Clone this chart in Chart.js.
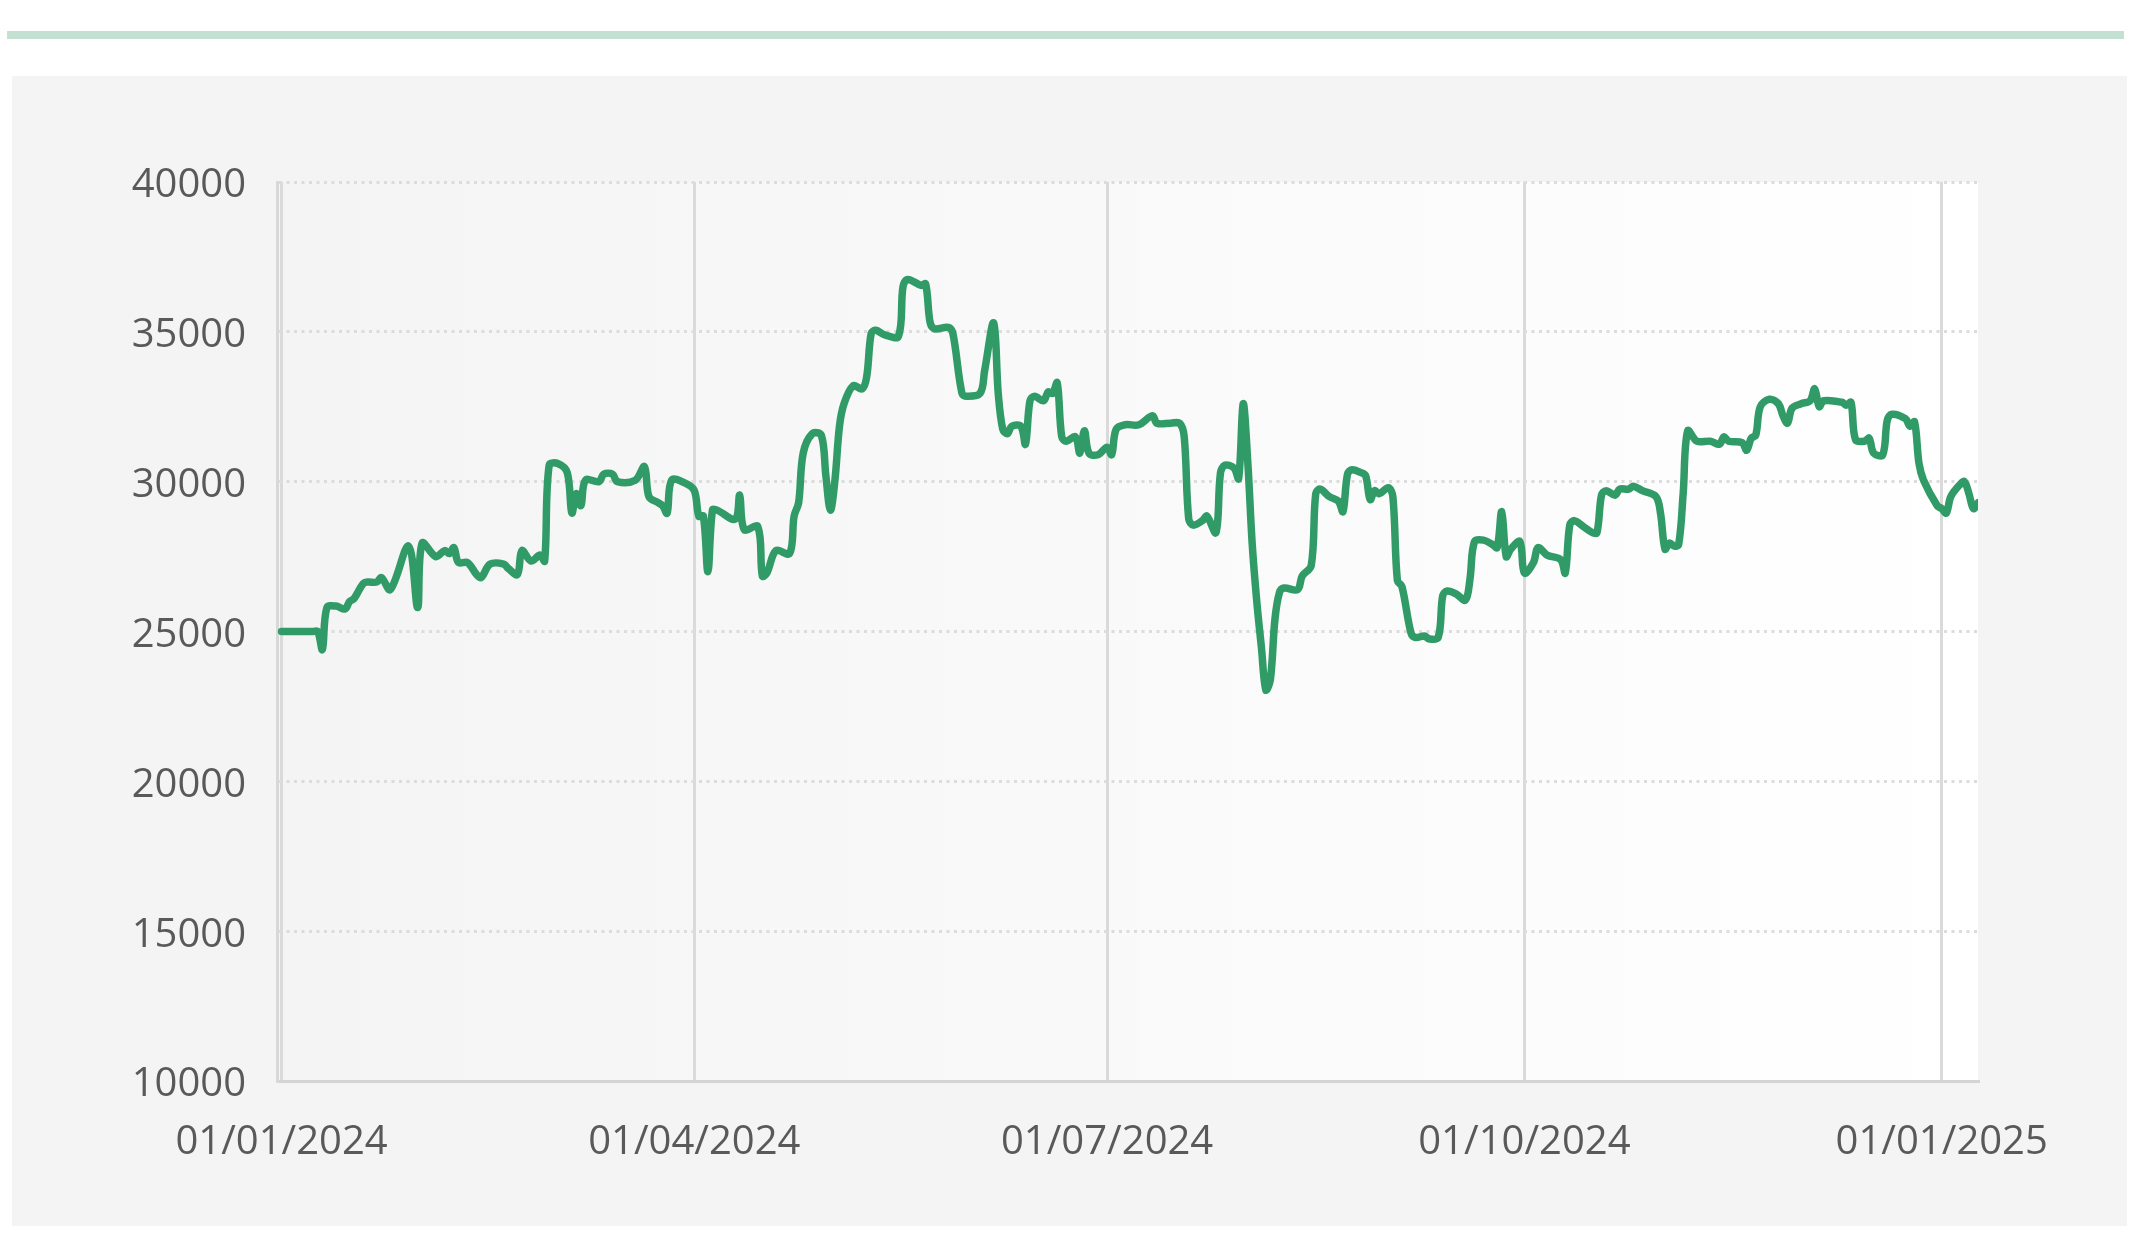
<!DOCTYPE html>
<html>
<head>
<meta charset="utf-8">
<script src="https://cdn.jsdelivr.net/npm/chart.js@4.4.1/dist/chart.umd.min.js"></script>
<style>
html,body{margin:0;padding:0;background:#ffffff;overflow:hidden}
canvas{display:block}
</style>
</head>
<body>
<canvas id="c" width="2141" height="1252"></canvas>
<script>
// Days since 01/01/2024
const dayIndex = [
  0,4,7,8,9,10,12,14,15,16,18,19,
  21,22,24,28,30,31,34,36,37,38,
  39,41,43,44,46,49,50,52,53,55,
  57,58,59,61,63,64,65,66,67,70,
  71,73,74,78,80,81,83,84,85,86,
  89,91,92,93,94,95,96,100,101,102,
  105,106,107,109,112,113,114,115,117,119,
  120,121,122,123,124,126,128,129,130,131,
  133,136,137,138,141,142,143,144,147,148,
  150,151,154,155,157,158,159,160,161,163,
  164,165,166,168,169,170,171,172,173,175,
  176,177,178,180,182,183,184,186,189,192,
  193,196,198,199,200,201,203,204,206,207,
  208,210,211,212,213,214,215,216,217,218,
  219,220,221,224,225,227,228,229,231,233,
  234,235,236,238,239,240,241,242,244,245,
  246,247,249,250,252,253,255,256,257,259,
  261,262,263,265,267,268,269,270,271,273,
  274,276,277,279,282,283,284,285,287,289,
  290,291,292,294,295,297,298,300,303,304,
  305,306,307,308,309,310,312,315,317,318,
  319,322,323,324,325,326,328,330,331,332,
  333,335,337,338,339,340,344,345,346,347,
  349,350,351,353,354,355,358,359,360,361,
  362,365,366,367,368,370,371,372,373,374
];
const priceValues = [
  25000,25000,25000,25000,24400,25800,25850,25750,26000,26100,26600,26650,
  26650,26800,26400,27850,25800,27950,27500,27700,27600,27800,
  27300,27300,26900,26800,27250,27250,27100,26900,27700,27350,
  27550,27350,30550,30600,30300,28950,29600,29200,30050,30000,
  30250,30250,30000,30050,30500,29500,29300,29200,28950,30050,
  29950,29700,28850,28850,27000,29050,29050,28750,29550,28400,
  28500,26850,26950,27700,27600,28850,29300,30950,31600,31550,
  30200,29050,30050,31850,32600,33200,33100,33500,34950,35050,
  34900,34850,36500,36750,36550,36600,35300,35100,35150,34950,
  32950,32850,32950,33700,35300,32950,31750,31600,31850,31850,
  31250,32700,32850,32700,33000,32950,33300,31500,31350,31500,
  30950,31700,30950,30900,31150,30900,31750,31900,31900,32200,
  31950,31950,31950,31500,28750,28550,28700,28850,28300,30300,
  30550,30450,30100,32600,30700,27900,26000,24500,23050,23400,
  25400,26300,26450,26400,26850,27200,29600,29750,29500,29350,
  29000,30250,30400,30300,30200,29400,29700,29600,29800,29500,
  26700,26500,24950,24800,24850,24750,24800,26200,26350,26250,
  26050,26750,28000,28050,27900,27800,29000,27500,27750,28000,
  26950,27300,27800,27550,27400,26950,28550,28700,28500,28300,
  28300,29550,29700,29550,29750,29750,29850,29700,29500,28950,
  27750,27950,27850,27900,29600,31700,31350,31350,31250,31500,
  31350,31300,31050,31450,31550,32500,32750,32600,32200,31950,
  32450,32600,32700,33100,32500,32700,32650,32550,32650,31400,
  31350,31450,30950,30900,32050,32250,32100,31850,32000,30600,
  30050,29200,29100,28950,29500,29900,30000,29600,29100,29300
];
const xTickDays = [0, 91, 182, 274, 366];
const xTickLabels = ['01/01/2024', '01/04/2024', '01/07/2024', '01/10/2024', '01/01/2025'];
const yTickValues = [10000, 15000, 20000, 25000, 30000, 35000, 40000];
const yTickLabels = ['10000', '15000', '20000', '25000', '30000', '35000', '40000'];

const points = dayIndex.map((d, i) => ({ x: d, y: priceValues[i] }));

const backdrop = {
  id: 'backdrop',
  beforeDraw(chart) {
    const { ctx, chartArea: a } = chart;
    ctx.save();
    ctx.fillStyle = '#c4e0d2';
    ctx.fillRect(7, 31, 2117, 8);
    ctx.fillStyle = '#f4f4f4';
    ctx.fillRect(12, 76, 2115, 1150);
    const g = ctx.createLinearGradient(a.left, 0, a.right, 0);
    g.addColorStop(0, '#f4f4f4');
    g.addColorStop(1, '#ffffff');
    ctx.fillStyle = g;
    ctx.fillRect(a.left, a.top, a.right - a.left, a.bottom - a.top);
    ctx.restore();
  }
};

const tickFont = { family: "'Open Sans', 'Noto Sans', sans-serif", size: 40 };
const tickColor = '#595959';

new Chart(document.getElementById('c'), {
  type: 'line',
  data: {
    datasets: [{
      data: points,
      borderColor: '#319b68',
      borderWidth: 7.5,
      pointRadius: 0,
      tension: 0.35,
      fill: false,
      borderCapStyle: 'round',
      borderJoinStyle: 'round'
    }]
  },
  options: {
    responsive: false,
    animation: false,
    devicePixelRatio: 1,
    layout: { padding: { left: 0, top: 182, right: 163, bottom: 0 } },
    plugins: { legend: { display: false }, tooltip: { enabled: false } },
    scales: {
      x: {
        type: 'linear',
        min: -1,
        max: 374,
        afterBuildTicks: s => { s.ticks = xTickDays.map(v => ({ value: v })); },
        afterFit: s => { s.height = 171; },
        ticks: {
          autoSkip: false,
          maxRotation: 0,
          padding: 38,
          color: tickColor,
          font: tickFont,
          callback: v => xTickLabels[xTickDays.indexOf(v)]
        },
        grid: { color: '#dadada', lineWidth: 3, drawTicks: false },
        border: { display: true, color: '#d4d4d4', width: 3 }
      },
      y: {
        min: 10000,
        max: 40000,
        afterBuildTicks: s => { s.ticks = yTickValues.map(v => ({ value: v })); },
        afterFit: s => { s.width = 277; },
        ticks: {
          padding: 31,
          labelOffset: 4,
          color: tickColor,
          font: tickFont,
          callback: v => yTickLabels[yTickValues.indexOf(v)]
        },
        grid: { color: '#dcdcdc', lineWidth: 3, drawTicks: false },
        border: { display: true, color: '#d8d8d8', width: 3, dash: [3, 4.5] }
      }
    }
  },
  plugins: [backdrop]
});
</script>
</body>
</html>
